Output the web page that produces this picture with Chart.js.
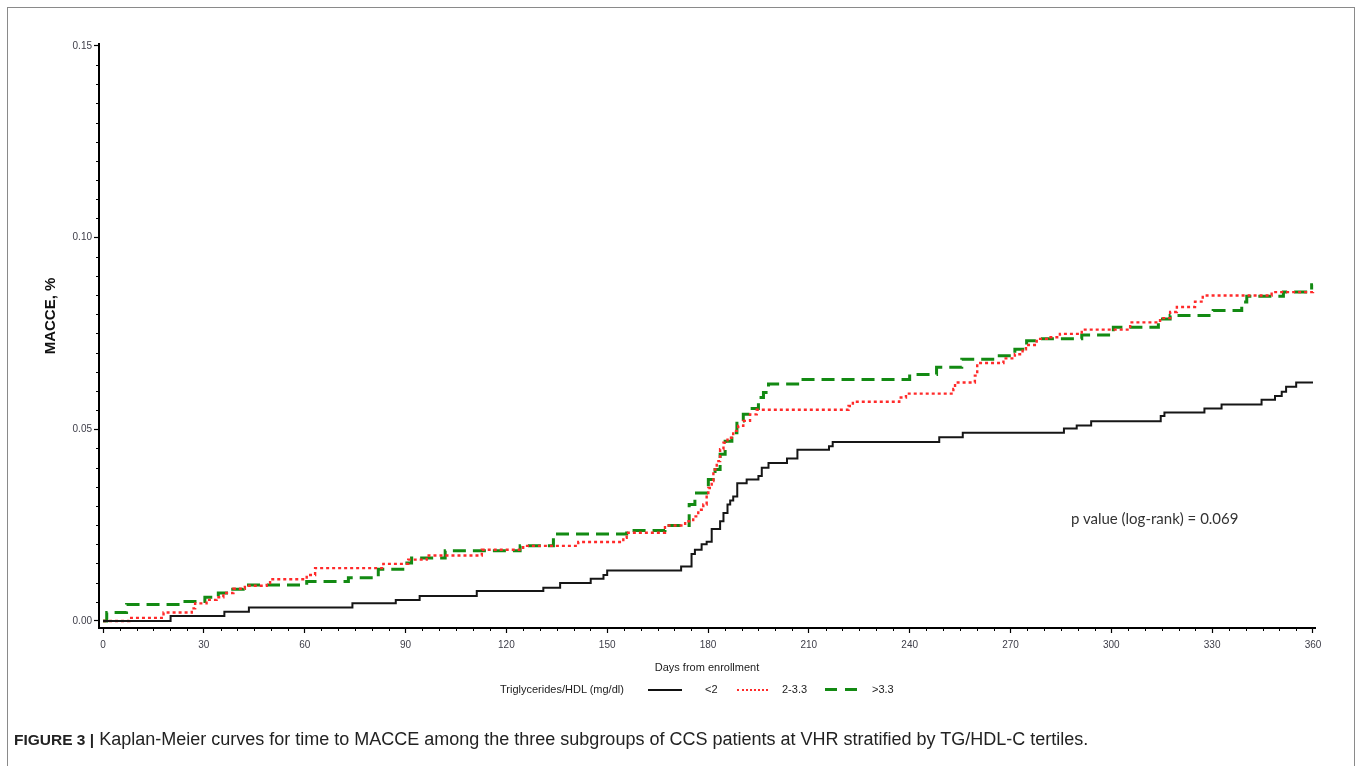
<!DOCTYPE html>
<html>
<head>
<meta charset="utf-8">
<script src="https://cdn.jsdelivr.net/npm/chart.js@4/dist/chart.umd.min.js"></script>
<style>
  html, body { margin: 0; padding: 0; background: #fff; }
  #wrap { position: relative; width: 1358px; height: 766px; overflow: hidden; font-family: "Liberation Sans", Arial, sans-serif; }
  #frame { position: absolute; left: 7px; top: 7px; width: 1348px; height: 780px; box-sizing: border-box; border: 1.5px solid #8a8a8a; }
  canvas { position: absolute; left: 0; top: 0; }
  .txt { position: absolute; white-space: nowrap; color: #222; }
  .sample { position: absolute; height: 0; }
  #ytitle { position: absolute; left: -10px; top: 307px; width: 120px; height: 18px; line-height: 18px; text-align: center; font-size: 15px; font-weight: bold; color: #111; transform: rotate(-90deg); white-space: nowrap; }
</style>
</head>
<body>
<div id="wrap">
  <div id="frame"></div>
  <canvas id="c" width="1358" height="766"></canvas>
  <div id="ytitle">MACCE, %</div>
  <div class="txt" style="left:1071px; top:509px; font-family: Lato, 'Open Sans', sans-serif; font-size:15px; color:#333;">p value (log-rank) = 0.069</div>
  <div class="txt" style="left:500px; top:683px; font-size:11px;">Triglycerides/HDL (mg/dl)</div>
  <div class="sample" style="left:648px; top:689px; width:34px; border-top:2px solid #111;"></div>
  <div class="txt" style="left:705px; top:683px; font-size:11px;">&lt;2</div>
  <div class="sample" style="left:737px; top:689px; width:31px; border-top:2px dotted #ff2a2a;"></div>
  <div class="txt" style="left:782px; top:683px; font-size:11px;">2-3.3</div>
  <div class="sample" style="left:825px; top:688px; width:12px; border-top:3px solid #138a13;"></div>
  <div class="sample" style="left:845px; top:688px; width:12px; border-top:3px solid #138a13;"></div>
  <div class="txt" style="left:872px; top:683px; font-size:11px;">&gt;3.3</div>
  <div class="txt" style="left:14px; top:729px; font-size:18px; color:#222;"><b style="font-size:15.5px;">FIGURE 3 |</b> <span>Kaplan-Meier curves for time to MACCE among the three subgroups of CCS patients at VHR stratified by TG/HDL-C tertiles.</span></div>
</div>
<script>
// ---- data ----
const seriesNames = ["<2", "2-3.3", ">3.3"];

const lowDays = [0, 20.1, 36.1, 43.4, 74.2, 87.1, 94.2, 111.2, 131, 136, 145.1, 148.9, 150, 172, 175.1, 176.1, 178.1, 179.6, 181.1, 183.6, 184.6, 185.8, 186.6, 187.5, 188.7, 191.5, 195, 196, 198, 203.5, 206.6, 216, 217.1, 248.8, 255.8, 285.9, 289.7, 294, 314.7, 315.8, 327.7, 332.8, 344.7, 348.7, 350.7, 352, 355, 360];
const lowVals = [0, 0.0013, 0.0024, 0.0035, 0.0046, 0.0055, 0.0065, 0.0078, 0.0087, 0.0099, 0.0110, 0.0120, 0.0132, 0.0142, 0.0175, 0.0186, 0.0200, 0.0207, 0.0240, 0.0260, 0.0282, 0.0304, 0.0314, 0.0325, 0.0359, 0.0369, 0.0378, 0.0400, 0.0412, 0.0424, 0.0447, 0.0456, 0.0467, 0.0479, 0.0491, 0.0502, 0.0510, 0.0521, 0.0535, 0.0544, 0.0554, 0.0565, 0.0577, 0.0587, 0.0598, 0.0611, 0.0622, 0.0622];

const midDays = [0, 7.8, 18, 26.4, 27.4, 30.8, 33.8, 35.8, 38.8, 42.2, 48.7, 49.7, 60.6, 63.1, 83.4, 90.8, 96.3, 112.7, 125, 141.4, 154.8, 155.8, 167.2, 173.2, 175.6, 177.1, 178.6, 179.6, 180.1, 181.1, 181.6, 182.6, 183.6, 184.6, 185.8, 187.5, 189, 190.5, 192.5, 194.5, 221.8, 223.1, 236.9, 238.9, 253, 253.5, 259.4, 260.1, 267.9, 271.3, 273.6, 274.6, 277.8, 280.8, 284.7, 291.2, 305.6, 314.5, 317.5, 319.5, 324.9, 327.2, 347.7, 360];
const midVals = [0, 0.0008, 0.0022, 0.0033, 0.0046, 0.0055, 0.0062, 0.0073, 0.0084, 0.0092, 0.0099, 0.0109, 0.0120, 0.0138, 0.0149, 0.0160, 0.0171, 0.0186, 0.0196, 0.0206, 0.0217, 0.0230, 0.0249, 0.0260, 0.0273, 0.0290, 0.0304, 0.0330, 0.0347, 0.0365, 0.0395, 0.0417, 0.0448, 0.0465, 0.0478, 0.0496, 0.0509, 0.0522, 0.0539, 0.0551, 0.0561, 0.0572, 0.0583, 0.0593, 0.0605, 0.0622, 0.0640, 0.0673, 0.0685, 0.0696, 0.0709, 0.0720, 0.0736, 0.0740, 0.0749, 0.0760, 0.0779, 0.0790, 0.0806, 0.0819, 0.0833, 0.0849, 0.0858, 0.0862];

const highDays = [0, 1.1, 7, 22.9, 30.3, 34.3, 37.8, 41.7, 60.6, 73, 81.9, 90.4, 91.8, 101.8, 124.1, 134, 155.8, 167.2, 174.4, 176.1, 180.1, 182.1, 183.6, 185.1, 187.1, 188.6, 190.5, 192.5, 195, 196.5, 198, 207.4, 240, 248, 255.5, 265.9, 271.3, 274.8, 278.8, 291.2, 300.6, 314, 317.5, 330.3, 338.8, 340.3, 351.2, 359.6, 360];
const highVals = [0, 0.0022, 0.0043, 0.0051, 0.0062, 0.0073, 0.0083, 0.0094, 0.0103, 0.0113, 0.0135, 0.0151, 0.0164, 0.0183, 0.0196, 0.0227, 0.0236, 0.0249, 0.0304, 0.0334, 0.0369, 0.0395, 0.0435, 0.0469, 0.0491, 0.0522, 0.0539, 0.0554, 0.0583, 0.0596, 0.0618, 0.0630, 0.0643, 0.0662, 0.0683, 0.0692, 0.0709, 0.0731, 0.0736, 0.0746, 0.0766, 0.0788, 0.0797, 0.0810, 0.0832, 0.0847, 0.0858, 0.0877, 0.0877];

const xTickValues = [0, 30, 60, 90, 120, 150, 180, 210, 240, 270, 300, 330, 360];
const yTickValues = [0, 0.05, 0.10, 0.15];
const xTitle = "Days from enrollment";

// ---- chart ----
const pts = (d, v) => d.map((x, i) => ({ x: x, y: v[i] }));

const minorTicks = {
  id: 'minorTicks',
  afterDraw(chart) {
    const ctx = chart.ctx;
    const xs = chart.scales.x, ys = chart.scales.y;
    const area = chart.chartArea;
    ctx.save();
    ctx.strokeStyle = '#000';
    ctx.lineWidth = 1;
    ctx.beginPath();
    for (let d = 5; d < 360; d += 5) {
      if (d % 30 === 0) continue;
      const px = Math.round(xs.getPixelForValue(d)) + 0.5;
      ctx.moveTo(px, area.bottom);
      ctx.lineTo(px, area.bottom + 3);
    }
    for (let k = 1; k < 30; k++) {
      if (k % 10 === 0) continue;
      const py = Math.round(ys.getPixelForValue(k * 0.005)) + 0.5;
      ctx.moveTo(area.left, py);
      ctx.lineTo(area.left - 3, py);
    }
    ctx.stroke();
    ctx.restore();
  }
};

const tickFont = { family: "'Liberation Sans', Arial, sans-serif", size: 10 };

new Chart(document.getElementById('c'), {
  type: 'line',
  data: {
    datasets: [
      { label: seriesNames[0], data: pts(lowDays, lowVals), borderColor: '#161616', borderWidth: 2, stepped: true, pointRadius: 0, fill: false },
      { label: seriesNames[1], data: pts(midDays, midVals), borderColor: '#ff2a2a', borderWidth: 2.4, borderDash: [3, 3], stepped: true, pointRadius: 0, fill: false },
      { label: seriesNames[2], data: pts(highDays, highVals), borderColor: '#138a13', borderWidth: 3, borderDash: [13, 7], stepped: true, pointRadius: 0, fill: false }
    ]
  },
  options: {
    responsive: false,
    devicePixelRatio: 1,
    animation: false,
    layout: { padding: { left: 0, right: 43, top: 44, bottom: 78 } },
    plugins: { legend: { display: false }, tooltip: { enabled: false } },
    scales: {
      x: {
        type: 'linear',
        min: -1.2, max: 360.6,
        afterBuildTicks: (s) => { s.ticks = xTickValues.map(v => ({ value: v })); },
        afterFit: (s) => { s.height = 60; },
        ticks: { autoSkip: false, maxRotation: 0, padding: 6, color: '#3d3d48', font: tickFont, callback: (v) => String(v) },
        grid: { display: true, drawOnChartArea: false, drawTicks: true, tickLength: 5, tickColor: '#000', tickWidth: 1.2 },
        border: { display: true, color: '#000', width: 2 },
        title: { display: true, text: xTitle, color: '#222', font: { family: "'Liberation Sans', Arial, sans-serif", size: 11 }, padding: { top: 0, bottom: 13 } }
      },
      y: {
        type: 'linear',
        min: -0.00183, max: 0.15052,
        afterBuildTicks: (s) => { s.ticks = yTickValues.map(v => ({ value: v })); },
        afterFit: (s) => { s.width = 99; },
        ticks: { autoSkip: false, padding: 2, color: '#3d3d48', font: tickFont, callback: (v) => Number(v).toFixed(2) },
        grid: { display: true, drawOnChartArea: false, drawTicks: true, tickLength: 5, tickColor: '#000', tickWidth: 1.2 },
        border: { display: true, color: '#000', width: 2 },
        title: { display: false }
      }
    }
  },
  plugins: [minorTicks]
});
</script>
</body>
</html>
